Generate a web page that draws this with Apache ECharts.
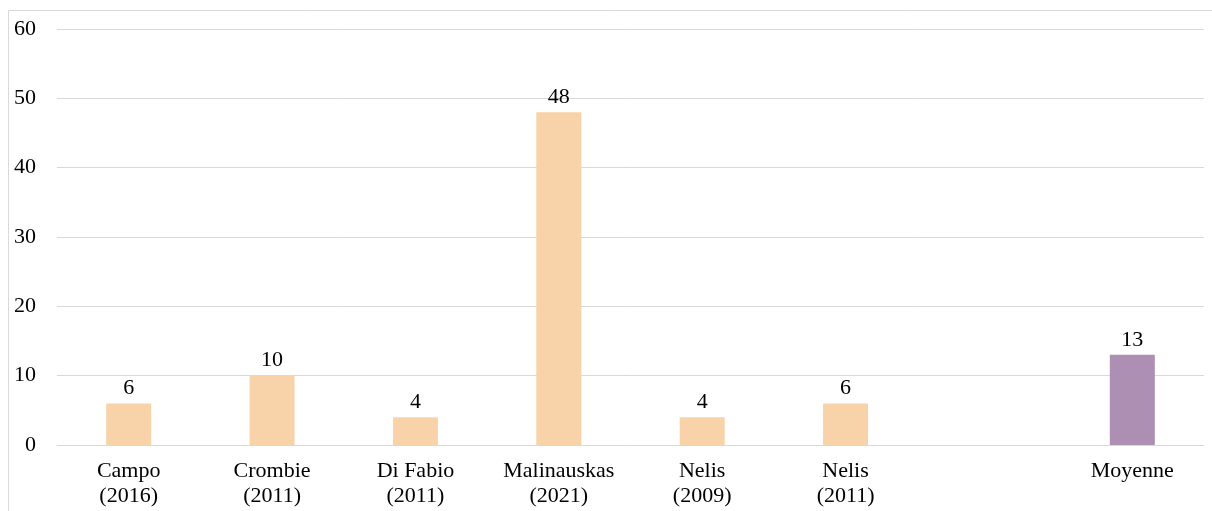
<!DOCTYPE html>
<html>
<head>
<meta charset="utf-8">
<script src="https://cdn.jsdelivr.net/npm/echarts@6/dist/echarts.min.js"></script>
<style>
html,body{margin:0;padding:0;background:#fff;}
#c{width:1212px;height:511px;}
</style>
</head>
<body>
<div id="c"></div>
<script>
const categories = ['Campo\n(2016)', 'Crombie\n(2011)', 'Di Fabio\n(2011)', 'Malinauskas\n(2021)', 'Nelis\n(2009)', 'Nelis\n(2011)', '', 'Moyenne'];
const studyValues = [6, 10, 4, 48, 4, 6, null, null];
const meanValues = [null, null, null, null, null, null, null, 13];
const yTicks = {min: 0, max: 60, interval: 10};

const font = 'Liberation Serif, Times New Roman, serif';
const chart = echarts.init(document.getElementById('c'));
chart.setOption({
  animation: false,
  graphic: [{
    type: 'rect', silent: true,
    shape: {x: 8.5, y: 10.5, width: 1300, height: 600},
    style: {fill: 'none', stroke: '#d9d9d9', lineWidth: 1}
  }],
  grid: {left: 57, right: 8, top: 29, bottom: 66},
  xAxis: {
    type: 'category',
    data: categories,
    axisLine: {show: true, lineStyle: {color: '#d9d9d9'}},
    axisTick: {show: false},
    axisLabel: {interval: 0, color: '#000', fontFamily: font, fontSize: 22, lineHeight: 25, margin: 14}
  },
  yAxis: {
    type: 'value',
    min: yTicks.min, max: yTicks.max, interval: yTicks.interval,
    axisLine: {show: false},
    axisTick: {show: false},
    splitLine: {lineStyle: {color: '#d9d9d9'}},
    axisLabel: {color: '#000', fontFamily: font, fontSize: 22, margin: 21}
  },
  series: [{
    type: 'bar', stack: 'a',
    data: studyValues,
    barWidth: 45,
    itemStyle: {color: '#F8D3A9'},
    label: {show: true, position: 'top', color: '#000', fontFamily: font, fontSize: 22, distance: 4}
  }, {
    type: 'bar', stack: 'a',
    data: meanValues,
    barWidth: 45,
    itemStyle: {color: '#AC8FB2'},
    label: {show: true, position: 'top', color: '#000', fontFamily: font, fontSize: 22, distance: 4}
  }]
});
</script>
</body>
</html>
